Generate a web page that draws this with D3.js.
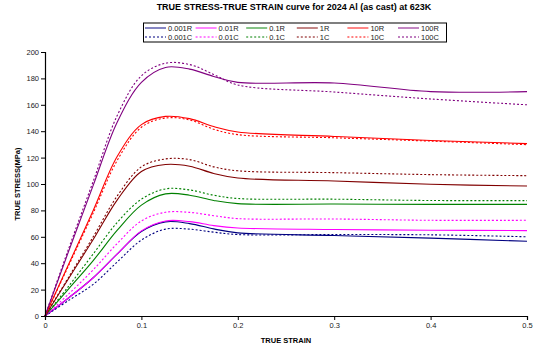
<!DOCTYPE html>
<html>
<head>
<meta charset="utf-8">
<script src="https://cdn.jsdelivr.net/npm/d3@7"></script>
<style>
  body { margin: 0; background: #fff; }
  svg { font-family: "Liberation Sans", Arial, sans-serif; }
</style>
</head>
<body>
<div id="chart"></div>
<script>
const strain = [0, 0.025, 0.05, 0.075, 0.1, 0.125, 0.15, 0.175, 0.2, 0.3, 0.4, 0.5];

const seriesNames = ["0.001R", "0.01R", "0.1R", "1R", "10R", "100R",
                     "0.001C", "0.01C", "0.1C", "1C", "10C", "100C"];
const seriesColors = ["#000080", "#ff00ff", "#008000", "#800000", "#ff0000", "#800080",
                      "#000080", "#ff00ff", "#008000", "#800000", "#ff0000", "#800080"];

// true stress (MPa)
const s0001R = [0, 14, 29, 47, 64, 71.3, 70, 66, 63, 61, 59, 56.6];
const s001R  = [0, 14, 29, 47, 64.5, 72, 71.5, 68.5, 66.7, 65.5, 65, 64.7];
const s01R   = [0, 21, 42, 65, 84, 92.5, 91.5, 87.5, 85.1, 84.8, 84.6, 84.6];
const s1R    = [0, 29, 58, 88, 109.5, 114.8, 113.5, 108, 104.5, 102.3, 99.8, 98.5];
const s10R   = [0, 40, 80, 121, 145, 151.2, 149.5, 143.5, 139.4, 136, 133, 130.6];
const s100R  = [0, 50, 99, 147, 177, 188.3, 187, 181.5, 177, 176.5, 170, 170];
const s0001C = [0, 12, 24, 41, 57.5, 65.8, 65.8, 63.5, 61.7, 61.7, 61.5, 60];
const s001C  = [0, 17, 35, 55, 72, 78.6, 78.5, 76, 73.8, 73.5, 72.5, 72.5];
const s01C   = [0, 23, 47, 71, 88.5, 96.3, 95.5, 91.5, 89, 88.5, 87.5, 87.4];
const s1C    = [0, 30, 60, 91, 113, 119, 118.5, 113, 110, 108.6, 107.1, 106.3];
const s10C   = [0, 39, 78, 118, 143, 150, 148.5, 141.5, 137.4, 135, 132.5, 129.8];
const s100C  = [0, 52, 102, 152, 182, 191.5, 190.5, 183, 175, 169.7, 164.4, 160];

const seriesValues = [s0001R, s001R, s01R, s1R, s10R, s100R,
                      s0001C, s001C, s01C, s1C, s10C, s100C];

const xTicks = [0, 0.1, 0.2, 0.3, 0.4, 0.5];
const yTicks = [0, 20, 40, 60, 80, 100, 120, 140, 160, 180, 200];

const width = 538, height = 352;
const margin = {left: 45, right: 11, top: 52, bottom: 36};

const svg = d3.select("#chart").append("svg")
    .attr("width", width)
    .attr("height", height);

const x = d3.scaleLinear().domain([0, 0.5]).range([margin.left, width - margin.right]);
const y = d3.scaleLinear().domain([0, 200]).range([height - margin.bottom, margin.top]);

// title
svg.append("text")
    .attr("x", 294).attr("y", 10)
    .attr("text-anchor", "middle")
    .attr("font-size", 9).attr("font-weight", "bold")
    .text("TRUE STRESS-TRUE STRAIN curve for 2024 Al (as cast) at 623K");

// curves
const line = d3.line()
    .x((d, i) => x(strain[i]))
    .y(d => y(d))
    .curve(d3.curveCatmullRom.alpha(0.5));

seriesValues.forEach((vals, k) => {
    svg.append("path")
        .attr("d", line(vals))
        .attr("fill", "none")
        .attr("stroke", seriesColors[k])
        .attr("stroke-width", 1.1)
        .attr("stroke-dasharray", k >= 6 ? "2,2" : null);
});

// axes
const xAxis = svg.append("g")
    .attr("transform", `translate(0,${y(0)})`)
    .call(d3.axisBottom(x).tickValues(xTicks).tickSize(4).tickPadding(3)
        .tickFormat(d => d === 0 ? "0" : d3.format(".1f")(d)));
const yAxis = svg.append("g")
    .attr("transform", `translate(${x(0)},0)`)
    .call(d3.axisLeft(y).tickValues(yTicks).tickSize(4).tickPadding(2));

[xAxis, yAxis].forEach(g => {
    g.select(".domain").attr("stroke", "#000").attr("stroke-width", 1.2);
    g.selectAll(".tick line").attr("stroke", "#000");
    g.selectAll(".tick text").attr("font-size", 7.5).attr("fill", "#222")
        .attr("font-family", "Liberation Sans, Arial, sans-serif");
});

// axis titles
svg.append("text")
    .attr("x", (x(0) + x(0.5)) / 2).attr("y", 343)
    .attr("text-anchor", "middle")
    .attr("font-size", 7.5).attr("font-weight", "bold")
    .text("TRUE STRAIN");

svg.append("text")
    .attr("transform", `translate(20,${(y(0) + y(200)) / 2}) rotate(-90)`)
    .attr("text-anchor", "middle")
    .attr("font-size", 7.5).attr("font-weight", "bold")
    .text("TRUE STRESS(MPa)");

// legend
const legend = svg.append("g");
legend.append("rect")
    .attr("x", 143.5).attr("y", 23)
    .attr("width", 303).attr("height", 19)
    .attr("fill", "#fff").attr("stroke", "#000").attr("stroke-width", 1);

seriesNames.forEach((name, k) => {
    const col = k % 6, row = Math.floor(k / 6);
    const lx = 145 + col * 50.6;
    const ly = 28 + row * 9;
    legend.append("line")
        .attr("x1", lx).attr("x2", lx + 21)
        .attr("y1", ly).attr("y2", ly)
        .attr("stroke", seriesColors[k])
        .attr("stroke-width", row === 0 ? 1.6 : 1)
        .attr("stroke-opacity", row === 0 ? 0.6 : 1)
        .attr("stroke-dasharray", row === 1 ? "2,2" : null);
    legend.append("text")
        .attr("x", lx + 23).attr("y", ly)
        .attr("dy", "0.35em")
        .attr("font-size", 7.5).attr("fill", "#222")
        .text(name);
});
</script>
</body>
</html>
